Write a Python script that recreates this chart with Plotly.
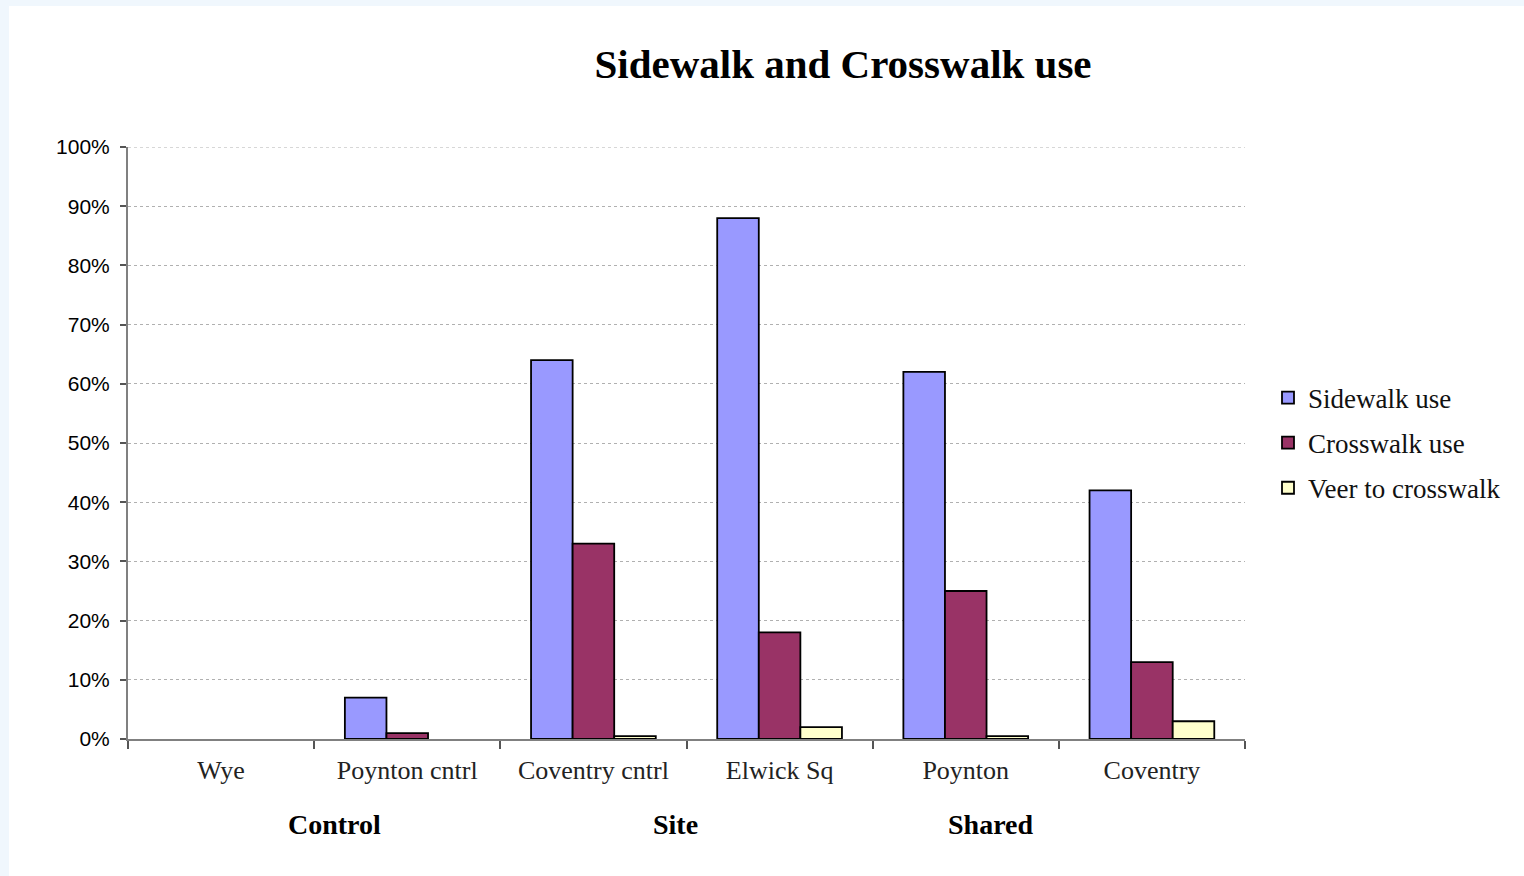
import plotly.graph_objects as go

# Data
sites = ["Wye", "Poynton cntrl", "Coventry cntrl", "Elwick Sq", "Poynton", "Coventry"]
sidewalk_use = [0, 7, 64, 88, 62, 42]
crosswalk_use = [0, 1, 33, 18, 25, 13]
veer_to_crosswalk = [0, 0, 0.5, 2, 0.5, 3]
y_ticks = list(range(0, 101, 10))
y_tick_labels = [f"{v}%" for v in y_ticks]
groups = ["Control", "Site", "Shared"]

series = [
    ("Sidewalk use", sidewalk_use, "#9999ff"),
    ("Crosswalk use", crosswalk_use, "#993366"),
    ("Veer to crosswalk", veer_to_crosswalk, "#ffffcc"),
]

W, H = 1524, 876
ML, MR, MT, MB = 128, 279, 147, 137
PW, PH = W - ML - MR, H - MT - MB

def px_x(px):
    return (px - ML) / PW

def px_y(py):
    return (H - MB - py) / PH

SERIF = "Liberation Serif, Times New Roman, serif"
SANS = "Liberation Sans, Arial, sans-serif"
GRID = "#b0b0b0"

fig = go.Figure()
for i, (name, vals, color) in enumerate(series):
    # empty cells (0) are left without a bar
    fig.add_trace(go.Bar(
        x=sites, y=[v if v else None for v in vals], name=name,
        marker=dict(color=color, line=dict(color="black", width=1.8)),
        legendgroup=f"g{i}",
    ))

fig.update_layout(
    width=W, height=H,
    margin=dict(l=ML, r=MR, t=MT, b=MB, pad=0),
    paper_bgcolor="#f0f7fd",
    plot_bgcolor="white",
    barmode="group", bargap=0.33, bargroupgap=0,
    title=dict(text="<b>Sidewalk and Crosswalk use</b>",
               font=dict(family=SERIF, size=41, color="black"),
               x=px_x(843), xref="paper", xanchor="center",
               y=1 - 64 / H, yref="container", yanchor="middle"),
    legend=dict(x=px_x(1268), y=px_y(443), xanchor="left", yanchor="middle",
                font=dict(family=SERIF, size=27, color="#111"),
                tracegroupgap=7, traceorder="grouped",
                bgcolor="rgba(0,0,0,0)", itemwidth=30),
    xaxis=dict(
        showline=True, linecolor="#808080", linewidth=2,
        ticks="outside", tickson="boundaries", ticklen=8, tickcolor="#555", tickwidth=1.5,
        tickfont=dict(family=SERIF, size=26, color="#222"),
        ticklabelstandoff=7,
        showgrid=False, fixedrange=True,
    ),
    yaxis=dict(
        range=[0, 100], tickmode="array", tickvals=y_ticks, ticktext=y_tick_labels,
        showline=True, linecolor="#808080", linewidth=2,
        ticks="outside", ticklen=6, tickcolor="#555", tickwidth=1.5,
        tickfont=dict(family=SANS, size=21, color="black"),
        showgrid=True, gridcolor=GRID, gridwidth=1, griddash="dot",
        zeroline=False, ticklabelstandoff=6,
    ),
    shapes=[
        dict(type="rect", xref="paper", yref="paper", layer="below",
             x0=px_x(9), x1=px_x(W + 10), y0=px_y(H + 10), y1=px_y(6),
             fillcolor="white", line=dict(width=0)),
        # top gridline at the end of the value range
        dict(type="line", xref="paper", yref="y", layer="below",
             x0=0, x1=1, y0=y_ticks[-1], y1=y_ticks[-1],
             line=dict(color=GRID, width=1, dash="dot")),
    ],
)

# Group labels below the category axis
for label, cx in zip(groups, [334, 675, 990]):
    fig.add_annotation(text=f"<b>{label}</b>", x=px_x(cx), y=px_y(824),
                       xref="paper", yref="paper", showarrow=False,
                       xanchor="center", yanchor="middle",
                       font=dict(family=SERIF, size=28, color="black"))

fig.write_html("out.html")
